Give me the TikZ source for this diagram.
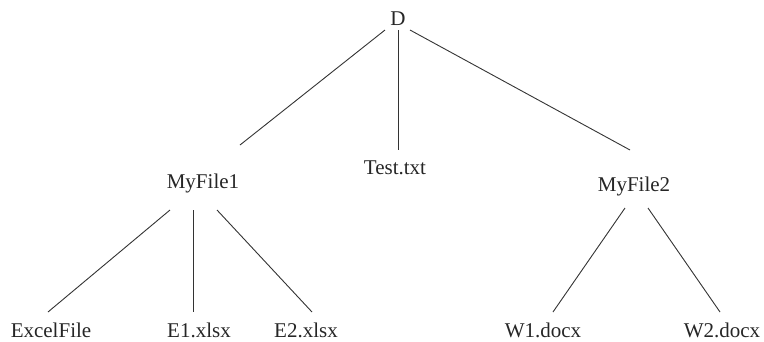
\documentclass[tikz,border=0pt]{standalone}
\usepackage{fontspec}
\setmainfont{Liberation Serif}
\begin{document}
\begin{tikzpicture}[x=1pt,y=-1pt,
  lbl/.style={inner sep=0pt,text height=14pt,text depth=4pt,font=\fontsize{21}{24}\selectfont,text=black!85},
  edge/.style={line width=0.9pt,draw=black!80}]
\useasboundingbox (0,0) rectangle (764,341);
\node[lbl] (D) at (398,20) {D};
\node[lbl] (M1) at (203,183) {MyFile1};
\node[lbl] (T) at (395,169) {Test.txt};
\node[lbl] (M2) at (634,186) {MyFile2};
\node[lbl] (EF) at (51,332) {ExcelFile};
\node[lbl] (E1) at (199,332) {E1.xlsx};
\node[lbl] (E2) at (306,332) {E2.xlsx};
\node[lbl] (W1) at (543,332) {W1.docx};
\node[lbl] (W2) at (722,332) {W2.docx};
\draw[edge] ([shift={(-13,10)}]D.center) -- ([shift={(37,-38)}]M1.center);
\draw[edge] ([shift={(0,10)}]D.center) -- ([shift={(3,-19)}]T.center);
\draw[edge] ([shift={(12,10)}]D.center) -- ([shift={(-4,-36)}]M2.center);
\draw[edge] ([shift={(-33,27)}]M1.center) -- ([shift={(-3,-20)}]EF.center);
\draw[edge] ([shift={(-10,27)}]M1.center) -- ([shift={(-6,-20)}]E1.center);
\draw[edge] ([shift={(14,27)}]M1.center) -- ([shift={(6,-20)}]E2.center);
\draw[edge] ([shift={(-9,22)}]M2.center) -- ([shift={(10,-20)}]W1.center);
\draw[edge] ([shift={(14,22)}]M2.center) -- ([shift={(-2,-20)}]W2.center);
\end{tikzpicture}
\end{document}
